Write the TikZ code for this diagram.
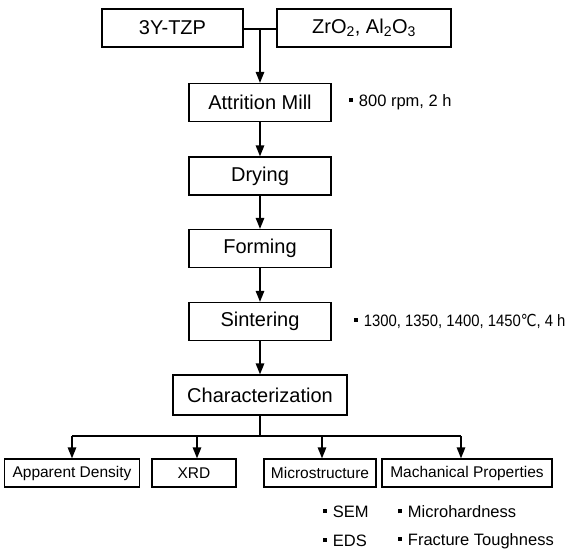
\documentclass[tikz,border=0pt]{standalone}
\usepackage{fontspec}
\setmainfont{Liberation Sans}
\newfontfamily\dejavunarrow[FakeStretch=0.85]{DejaVu Sans}
\newfontfamily\narrowfont[FakeStretch=0.9]{Liberation Sans}
\usetikzlibrary{arrows.meta}
\newcommand{\sqbul}{\raisebox{0.28em}{\rule{0.24em}{0.24em}}\hspace{0.35em}}
\begin{document}
\begin{tikzpicture}[x=1pt,y=-1pt,
  box/.style={draw,line width=1.3pt,minimum height=38pt,inner sep=0pt,font=\fontsize{20}{24}\selectfont},
  sbox/.style={draw,line width=1.3pt,minimum height=28pt,inner sep=0pt,font=\fontsize{15.5}{18}\selectfont},
  note/.style={anchor=west,inner sep=0pt,font=\fontsize{16.5}{20}\selectfont},
  narrownote/.style={anchor=west,inner sep=0pt,font=\narrowfont\fontsize{16.5}{20}\selectfont},
  conn/.style={line width=1.3pt},
  arr/.style={conn,-{Triangle[length=11pt,width=8.5pt]}}]
\useasboundingbox (0,0) rectangle (577,552);
% top inputs
\node[box,minimum width=141pt] (tzp) at (172.5,28) {3Y-TZP};
\node[box,minimum width=174pt] (zro) at (364,28) {ZrO\textsubscript{2}, Al\textsubscript{2}O\textsubscript{3}};
% process chain
\node[box,minimum width=142pt] (mill) at (260,102.5) {Attrition Mill};
\node[box,minimum width=142pt] (dry) at (260,176) {Drying};
\node[box,minimum width=142pt] (form) at (260,248.5) {Forming};
\node[box,minimum width=142pt] (sint) at (260,321.5) {Sintering};
\node[box,minimum width=174pt,minimum height=40pt] (char) at (260,395) {Characterization};
% results
\node[sbox,minimum width=135pt] (dens) at (72,473) {Apparent Density};
\node[sbox,minimum width=84pt] (xrd) at (194,473) {XRD};
\node[sbox,minimum width=112pt] (micro) at (320,473) {Microstructure};
\node[sbox,minimum width=170pt] (mech) at (467,473) {Machanical Properties};
% notes
\node[note] (n1) at (349,102.5) {\sqbul 800 rpm, 2 h};
\node[narrownote] (n2) at (354,321.5) {\sqbul 1300, 1350, 1400, 1450{\dejavunarrow ℃}, 4 h};
\node[note] (n3) at (323,512) {\sqbul SEM};
\node[note] (n4) at (323,541) {\sqbul EDS};
\node[note] (n5) at (398,512) {\sqbul Microhardness};
\node[note] (n6) at (398,541) {\sqbul Fracture Toughness};
% connectors
\coordinate (j) at (260,29);
\draw[conn] (tzp.east |- j) -- (zro.west |- j);
\draw[arr] (j) -- (mill.north);
\draw[arr] (mill) -- (dry);
\draw[arr] (dry) -- (form);
\draw[arr] (form) -- (sint);
\draw[arr] (sint) -- (char);
\coordinate (s) at (260,436);
\coordinate (b1) at (72,436);
\coordinate (b2) at (197,436);
\coordinate (b3) at (322,436);
\coordinate (b4) at (461,436);
\draw[conn] (char.south) -- (s);
\draw[conn] (b1) -- (b4);
\draw[arr] (b1) -- (b1 |- dens.north);
\draw[arr] (b2) -- (b2 |- xrd.north);
\draw[arr] (b3) -- (b3 |- micro.north);
\draw[arr] (b4) -- (b4 |- mech.north);
\end{tikzpicture}
\end{document}
